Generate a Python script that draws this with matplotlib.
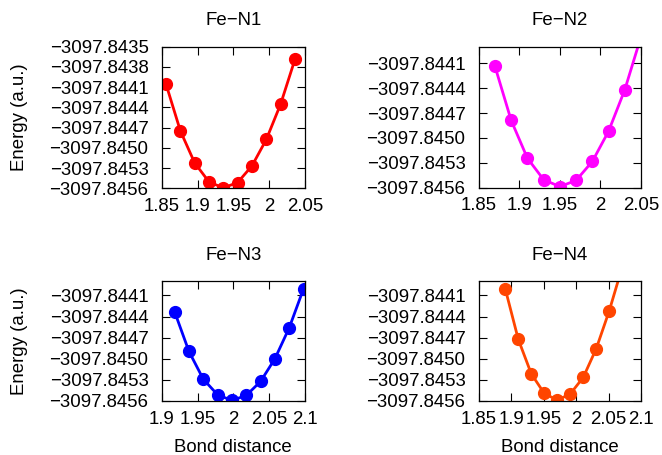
import matplotlib
matplotlib.use("Agg")
import matplotlib.pyplot as plt
from matplotlib.ticker import FuncFormatter, MultipleLocator

plt.rcParams['font.family'] = ['Liberation Sans', 'DejaVu Sans']

# Bond-distance scans for the four Fe–N bonds
titles = ["Fe\u2212N1", "Fe\u2212N2", "Fe\u2212N3", "Fe\u2212N4"]
colors = ["#ff0000", "#ff00ff", "#0000ff", "#ff4500"]

dist_n1 = [1.856, 1.876, 1.896, 1.916, 1.936, 1.956, 1.976, 1.996, 2.016, 2.036]
energy_n1 = [-3097.844054, -3097.844747, -3097.845223, -3097.845505, -3097.845594,
             -3097.845514, -3097.845267, -3097.844876, -3097.844351, -3097.843687]

dist_n2 = [1.870, 1.890, 1.910, 1.930, 1.950, 1.970, 1.990, 2.010, 2.030, 2.050]
energy_n2 = [-3097.844135, -3097.844788, -3097.845244, -3097.845503, -3097.845587,
             -3097.845512, -3097.845284, -3097.844920, -3097.844420, -3097.843780]

dist_n3 = [1.918, 1.938, 1.958, 1.978, 1.998, 2.018, 2.038, 2.058, 2.078, 2.098]
energy_n3 = [-3097.844332, -3097.844895, -3097.845289, -3097.845512, -3097.845592,
             -3097.845521, -3097.845322, -3097.845000, -3097.844560, -3097.844005]

dist_n4 = [1.891, 1.911, 1.931, 1.951, 1.971, 1.991, 2.011, 2.031, 2.051, 2.071]
energy_n4 = [-3097.844010, -3097.844725, -3097.845214, -3097.845492, -3097.845588,
             -3097.845500, -3097.845265, -3097.844858, -3097.844322, -3097.843700]

distances = [dist_n1, dist_n2, dist_n3, dist_n4]
energies = [energy_n1, energy_n2, energy_n3, energy_n4]

x_limits = [(1.85, 2.05), (1.85, 2.05), (1.9, 2.1), (1.85, 2.1)]
y_limits = [(-3097.8456, -3097.8435), (-3097.8456, -3097.8439),
            (-3097.8456, -3097.8439), (-3097.8456, -3097.8439)]

# panel rectangles in pixels (left, top, right, bottom)
W, H = 662, 455
boxes_px = [(161.7, 46.7, 305.0, 188.3), (478.7, 46.7, 641.0, 187.7),
            (161.7, 281.3, 305.0, 401.0), (478.7, 281.3, 641.0, 401.0)]

fig = plt.figure(figsize=(W / 100, H / 100), dpi=100)
fs = 13.4


def fmt_y(v, pos):
    s = "%.4f" % v
    return s.replace("-", "\u2212")


def fmt_x(v, pos):
    s = "%g" % round(v, 4)
    return s.replace("-", "\u2212")


for i in range(4):
    l, t, r, b = boxes_px[i]
    ax = fig.add_axes([l / W, 1 - b / H, (r - l) / W, (b - t) / H])
    ax.plot(distances[i], energies[i], '-', color=colors[i], lw=2.0,
            marker='o', ms=8.5, clip_on=True)
    ax.set_xlim(*x_limits[i])
    ax.set_ylim(*y_limits[i])
    ax.xaxis.set_major_locator(MultipleLocator(0.05))
    ax.yaxis.set_major_locator(MultipleLocator(0.0003))
    ax.xaxis.set_major_formatter(FuncFormatter(fmt_x))
    ax.yaxis.set_major_formatter(FuncFormatter(fmt_y))
    ax.tick_params(direction='in', length=5.5, width=0.8, top=True, right=True,
                   labelsize=fs)
    ax.tick_params(axis='y', pad=9.5)
    ax.tick_params(axis='x', pad=7.0)
    for sp in ax.spines.values():
        sp.set_linewidth(0.9)
    ax.set_title(titles[i], fontsize=fs, pad=15.5)
    if i in (0, 2):
        ax.set_ylabel("Energy (a.u.)", fontsize=fs, va='center', ha='center')
        ax.yaxis.set_label_coords((20 - l) / (r - l), 0.5)
    if i in (2, 3):
        ax.set_xlabel("Bond distance", fontsize=fs, va='center', ha='center')
        ax.xaxis.set_label_coords(0.5, -(447 - b) / (b - t))

fig.savefig("out.png", dpi=100)
